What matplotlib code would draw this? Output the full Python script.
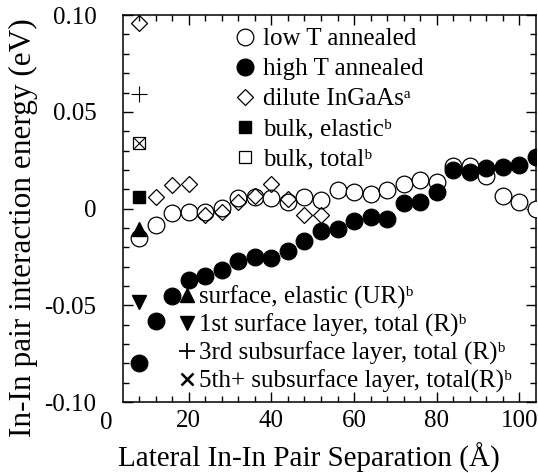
import matplotlib
matplotlib.use('Agg')
import matplotlib.pyplot as plt
from matplotlib.lines import Line2D

# DejaVu Serif supplies the superscript letters
plt.rcParams['font.family'] = ['Liberation Serif', 'DejaVu Serif']

# pair separations (Angstrom)
sep = [8, 12, 16, 20, 24, 28, 32, 36, 40, 44, 48, 52, 56, 60, 64, 68, 72, 76,
       80, 84, 88, 92, 96, 100, 104]
low_T = [-0.0153, -0.0087, -0.0024, -0.0019, -0.0020, 0.0005, 0.0056, 0.0060,
         0.0057, 0.0034, 0.0058, 0.0044, 0.0095, 0.0085, 0.0077, 0.0097, 0.0128,
         0.0148, 0.0136, 0.0220, 0.0222, 0.0166, 0.0066, 0.0032, -0.0003]
high_T = [-0.0800, -0.0582, -0.0454, -0.0369, -0.0347, -0.0318, -0.0273, -0.0252,
          -0.0255, -0.0219, -0.0168, -0.0114, -0.0107, -0.0065, -0.0044, -0.0053,
          0.0027, 0.0032, 0.0087, 0.0202, 0.0187, 0.0212, 0.0217, 0.0223, 0.0268]

sep_dil = [8, 12, 16, 20, 24, 28, 32, 36, 40, 44, 48, 52]
dilute = [0.096, 0.0061, 0.0121, 0.0129, -0.0032, -0.0020, 0.0036, 0.0065,
          0.0126, 0.0049, -0.0035, -0.0035]

# nearest neighbour calculations
sep_nn = [8]
bulk_elastic = [0.0061]
bulk_total = [0.034]
surf_elastic = [-0.0107]
layer1_total = [-0.0483]
layer3_total = [0.0592]
layer5_total = [0.034]

fig = plt.figure(figsize=(5.38, 4.73), dpi=100)
ax = fig.add_axes([0.228, 0.150, 0.768, 0.818])

k = 'black'
ax.plot(sep, low_T, 'o', ms=12, mfc='white', mec=k, mew=0.9, zorder=3)
ax.plot(sep, high_T, 'o', ms=12, mfc=k, mec=k, mew=0.9, zorder=4)
ax.plot(sep_dil, dilute, 'D', ms=8.2, mfc='none', mec=k, mew=0.9, zorder=3)
ax.plot(sep_nn, bulk_elastic, 's', ms=8.5, mfc=k, mec=k, zorder=5)
ax.plot(sep_nn, bulk_total, 's', ms=9, mfc='none', mec=k, mew=0.9, zorder=5)
ax.plot(sep_nn, surf_elastic, '^', ms=10, mfc=k, mec=k, zorder=5)
ax.plot(sep_nn, layer1_total, 'v', ms=10, mfc=k, mec=k, zorder=5)
ax.plot(sep_nn, layer3_total, '+', ms=11, mec=k, mew=0.8, zorder=5)
ax.plot(sep_nn, layer5_total, 'x', ms=8, mec=k, mew=0.8, zorder=5)

ax.set_xlim(4, 104)
ax.set_ylim(-0.1, 0.1)
ax.set_xticks([20, 40, 60, 80, 100])
ax.set_xticks(range(8, 104, 4), minor=True)
ax.set_yticks([-0.10, -0.05, 0, 0.05, 0.10])
ax.set_yticklabels(['-0.10', '-0.05', '0', '0.05', '0.10'])
ax.set_yticks([i / 100 for i in range(-9, 10)], minor=True)
ax.tick_params(which='both', direction='in', top=True, right=True, width=1, labelsize=18)
ax.tick_params(which='major', length=7)
ax.tick_params(which='minor', length=4)
ax.tick_params(axis='y', pad=19)
ax.tick_params(axis='x', pad=6)
for s in ax.spines.values():
    s.set_linewidth(1.1)

# the x origin sits left of the frame
ax.text(0, -0.025, '0', transform=ax.get_xaxis_transform(), ha='center', va='top',
        fontsize=18, clip_on=False)

ax.set_xlabel('Lateral In-In Pair Separation (Å)', fontsize=21, labelpad=5)
ax.xaxis.set_label_coords(0.45, -0.105)
ax.set_ylabel('In-In pair interaction energy (eV)', fontsize=22.5)
ax.yaxis.set_label_coords(-0.205, 0.45)

h1 = [Line2D([], [], ls='none', marker='o', ms=12, mfc='white', mec=k, mew=0.9),
      Line2D([], [], ls='none', marker='o', ms=12, mfc=k, mec=k),
      Line2D([], [], ls='none', marker='D', ms=8.2, mfc='none', mec=k, mew=0.9),
      Line2D([], [], ls='none', marker='s', ms=9, mfc=k, mec=k),
      Line2D([], [], ls='none', marker='s', ms=9, mfc='none', mec=k, mew=0.9)]
l1 = ['low T annealed', 'high T annealed', 'dilute InGaAs\u1d43',
      'bulk, elastic\u1d47', 'bulk, total\u1d47']
leg1 = ax.legend(h1, l1, loc='upper left', bbox_to_anchor=(0.266, 0.967),
                 frameon=False, fontsize=18, handlelength=1.0, handletextpad=0.2,
                 labelspacing=0.3, borderpad=0, borderaxespad=0)
ax.add_artist(leg1)

h2 = [Line2D([], [], ls='none', marker='^', ms=10, mfc=k, mec=k),
      Line2D([], [], ls='none', marker='v', ms=10, mfc=k, mec=k),
      Line2D([], [], ls='none', marker='+', ms=12, mec=k, mew=1.3),
      Line2D([], [], ls='none', marker='x', ms=8, mec=k, mew=1.8)]
l2 = ['surface, elastic (UR)\u1d47', '1st surface layer, total (R)\u1d47',
      '3rd subsurface layer, total (R)\u1d47',
      '5th+ subsurface layer, total(R)\u1d47']
ax.legend(h2, l2, loc='upper left', bbox_to_anchor=(0.137, 0.301),
          frameon=False, fontsize=18, handlelength=0.6, handletextpad=0.2,
          labelspacing=0.18, borderpad=0, borderaxespad=0)

fig.savefig('out.png', dpi=100)
